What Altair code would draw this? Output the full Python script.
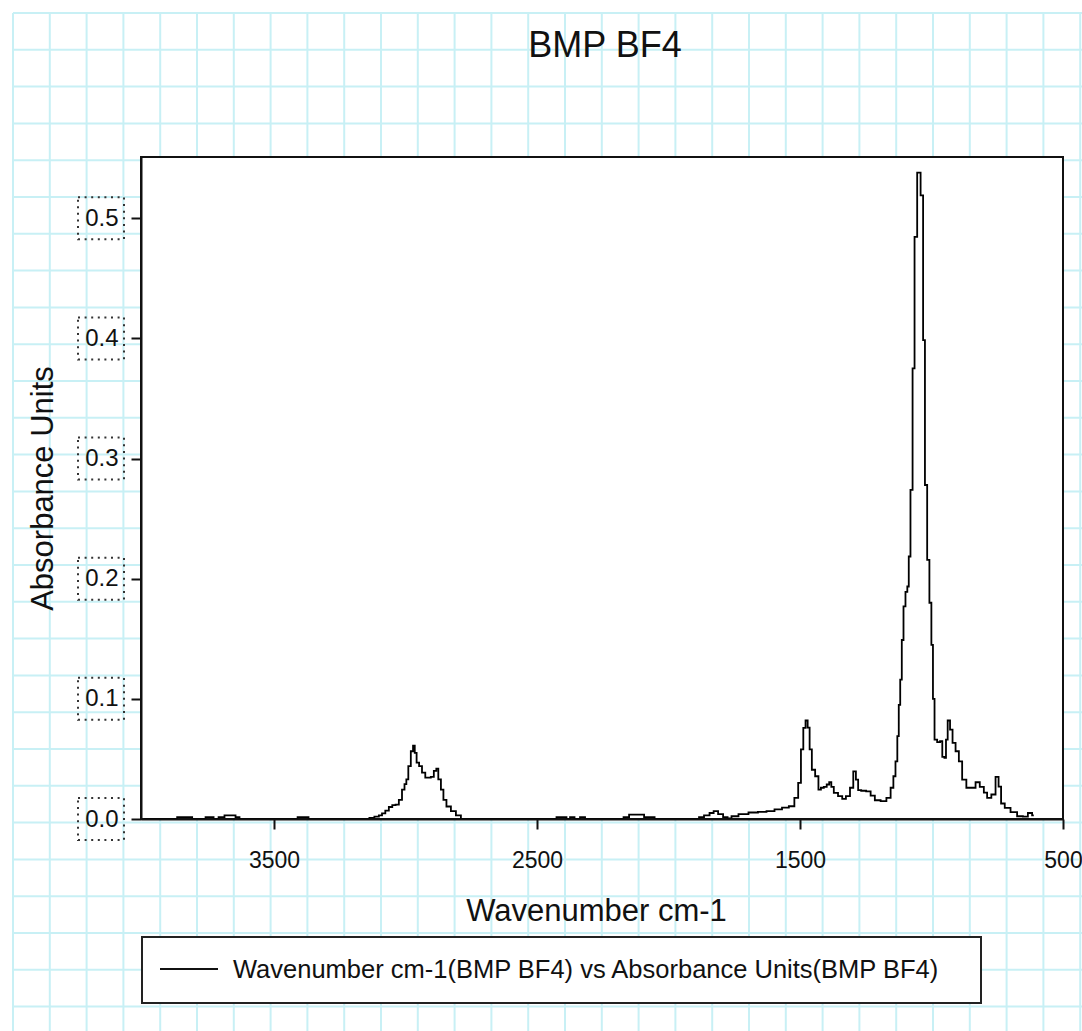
import altair as alt
import pandas as pd

# ---------------- data ----------------
TITLE = "BMP BF4"
X_TITLE = "Wavenumber cm-1"
Y_TITLE = "Absorbance Units"
SERIES = "Wavenumber cm-1(BMP BF4) vs Absorbance Units(BMP BF4)"

wavenumber = [
    3994, 3874, 3863, 3817, 3806, 3764, 3757, 3734, 3726, 3696, 3681, 3654, 3639, 3624,
    3414, 3407, 3373, 3365,
    3171, 3146, 3129, 3108, 3095, 3084, 3070, 3057, 3044, 3032, 3019, 3008, 3000, 2994,
    2985, 2975, 2968, 2962, 2954, 2943, 2932, 2918, 2909, 2899, 2886, 2880, 2871, 2860,
    2852, 2837, 2818, 2799, 2780,
    2430, 2422, 2392, 2384, 2365, 2350, 2323, 2312,
    2175, 2167, 2133, 2099, 2087, 2057, 2049,
    1890, 1878, 1852, 1836, 1821, 1802, 1783, 1768, 1753, 1715, 1677, 1643, 1612, 1582,
    1555, 1530, 1513, 1501, 1492, 1483, 1475, 1467, 1460, 1450, 1435, 1425, 1416, 1403,
    1394, 1384, 1378, 1365, 1346, 1333, 1318, 1302, 1293, 1282, 1276, 1259, 1238, 1225,
    1206, 1181, 1162, 1149, 1141, 1133, 1127, 1122, 1116, 1110, 1103, 1095, 1089, 1084,
    1076, 1068, 1061, 1048, 1035, 1029, 1021, 1012, 1004, 997, 992, 985, 972, 963,
    955, 947, 943, 934, 925, 915, 902, 890, 877, 858, 839, 826, 807, 795,
    782, 763, 750, 740, 731, 712, 687, 662, 643, 624, 611,
]
absorbance = [
    0.0, 0.0, 0.0015, 0.0015, 0.0, 0.0, 0.0015, 0.0015, 0.0, 0.0015, 0.003, 0.003, 0.0015, 0.0,
    0.0, 0.0015, 0.0015, 0.0,
    0.0, 0.0, 0.001, 0.002, 0.003, 0.0046, 0.007, 0.010, 0.0115, 0.012, 0.016, 0.0245, 0.029, 0.033,
    0.044, 0.0564, 0.061, 0.055, 0.047, 0.044, 0.0386, 0.0345, 0.0345, 0.035, 0.040, 0.042, 0.033, 0.0245,
    0.016, 0.0104, 0.0065, 0.003, 0.0,
    0.0, 0.0015, 0.0015, 0.0, 0.0015, 0.0, 0.0015, 0.0,
    0.0, 0.0015, 0.0037, 0.0037, 0.0015, 0.0015, 0.0,
    0.0, 0.0015, 0.003, 0.005, 0.0065, 0.004, 0.0015, 0.0005, 0.0023, 0.004, 0.0054, 0.006, 0.0065, 0.008,
    0.0095, 0.0106, 0.0176, 0.030, 0.058, 0.0758, 0.082, 0.076, 0.058, 0.041, 0.0356, 0.0245, 0.026, 0.0268,
    0.0287, 0.0306, 0.0268, 0.0218, 0.019, 0.0168, 0.019, 0.026, 0.0397, 0.0328, 0.024, 0.0235, 0.023, 0.0195,
    0.0156, 0.0148, 0.0176, 0.026, 0.0356, 0.048, 0.069, 0.095, 0.116, 0.149, 0.177, 0.189, 0.1935, 0.2185,
    0.274, 0.375, 0.4845, 0.538, 0.519, 0.3986, 0.278, 0.2157, 0.18, 0.145, 0.10, 0.066, 0.064, 0.0647,
    0.0517, 0.051, 0.066, 0.082, 0.0744, 0.0633, 0.0564, 0.048, 0.0328, 0.026, 0.026, 0.0306, 0.0268, 0.022,
    0.0176, 0.0204, 0.035, 0.027, 0.0129, 0.0093, 0.0057, 0.0023, 0.002, 0.005, 0.003,
]
x_ticks = [3500, 2500, 1500, 500]
y_ticks = [0.0, 0.1, 0.2, 0.3, 0.4, 0.5]
grid_cols = list(range(30))
grid_rows = list(range(28))

# ---------------- styling ----------------
FONT = "Liberation Sans"
INK = "#111111"
GRID = "#c8f0f5"
W, H = 922, 662

spec_df = pd.DataFrame({"wavenumber": wavenumber, "absorbance": absorbance})
one = pd.DataFrame({"title": [TITLE], "series": [SERIES]})

x_scale = alt.Scale(domain=[500, 4006], reverse=True, nice=False, zero=False)
y_scale = alt.Scale(domain=[0, 0.551], nice=False, zero=False)

grid_v = alt.Chart(pd.DataFrame({"gx": grid_cols})).mark_rule(color=GRID, strokeWidth=2).encode(
    x=alt.X("gx:Q", scale=alt.Scale(domain=[0, 29], range=[-128, 939.2]), axis=None),
    y=alt.value(-144), y2=alt.value(874),
)
grid_h = alt.Chart(pd.DataFrame({"gy": grid_rows})).mark_rule(color=GRID, strokeWidth=2).encode(
    y=alt.Y("gy:Q", scale=alt.Scale(domain=[0, 27], range=[-144, 849.6]), axis=None),
    x=alt.value(-128), x2=alt.value(941),
)

plot_bg = alt.Chart(one).mark_rect(fill="white", stroke=INK, strokeWidth=2).encode(
    x=alt.value(0), x2=alt.value(W), y=alt.value(0), y2=alt.value(H)
)

title_text = alt.Chart(one).mark_text(
    font=FONT, fontSize=36, color=INK, align="center", baseline="alphabetic"
).encode(x=alt.value(W / 2 + 3), y=alt.value(-100), text="title:N")

legend_box = alt.Chart(one).mark_rect(fill="white", stroke="#222222", strokeWidth=2).encode(
    x=alt.value(1), x2=alt.value(840), y=alt.value(780), y2=alt.value(846)
)
legend_line = alt.Chart(one).mark_rule(color=INK, strokeWidth=2).encode(
    x=alt.value(19), x2=alt.value(77), y=alt.value(812)
)
legend_text = alt.Chart(one).mark_text(
    font=FONT, fontSize=25.5, color=INK, align="left", baseline="middle"
).encode(x=alt.value(92), y=alt.value(813), text="series:N")

spectrum = alt.Chart(spec_df).mark_line(
    interpolate="step", color="black", strokeWidth=1.8
).encode(
    x=alt.X(
        "wavenumber:Q", scale=x_scale,
        axis=alt.Axis(
            values=x_ticks, format="d", title=X_TITLE, orient="bottom",
            labelFont=FONT, labelFontSize=23, labelColor=INK, labelPadding=38,
            labelBaseline="alphabetic", labelFlush=False, labelOverlap=False,
            tickSize=10, tickWidth=2, tickColor=INK, domainColor=INK, domainWidth=2,
            grid=False, titleFont=FONT, titleFontSize=31, titleFontWeight="normal",
            titleColor=INK, titleX=W / 2 - 6, titleY=101, titleAlign="center",
            titleBaseline="alphabetic", zindex=1,
        ),
    ),
    y=alt.Y(
        "absorbance:Q", scale=y_scale,
        axis=alt.Axis(
            values=y_ticks, format=".1f", title=Y_TITLE, orient="left",
            labelFont=FONT, labelFontSize=24, labelColor=INK, labelPadding=13,
            tickSize=10, tickWidth=2, tickColor=INK, domainColor=INK, domainWidth=2,
            grid=False, titleFont=FONT, titleFontSize=31, titleFontWeight="normal",
            titleColor=INK, titleX=-89, titleY=H / 2, titleAngle=270, titleAlign="center",
            titleBaseline="alphabetic", zindex=1,
        ),
    ),
)

tick_boxes = alt.Chart(pd.DataFrame({"tick": y_ticks})).mark_point(
    shape="M-1,-0.913L1,-0.913L1,0.913L-1,0.913Z", size=2116, filled=False,
    color="#333333", strokeWidth=2, strokeDash=[2, 4.6], opacity=1,
).encode(
    x=alt.value(-40),
    y=alt.Y("tick:Q", scale=y_scale, axis=None),
)

chart = alt.layer(
    grid_v, grid_h, plot_bg, title_text, legend_box, legend_line, legend_text,
    tick_boxes, spectrum,
).resolve_scale(x="independent", y="independent").properties(
    width=W, height=H,
    padding={"left": 141, "top": 157, "right": 19, "bottom": 212},
    autosize="none",
    background="white",
).configure_view(stroke=None)

chart.save("out.html", embed_options={"renderer": "svg", "actions": False})
